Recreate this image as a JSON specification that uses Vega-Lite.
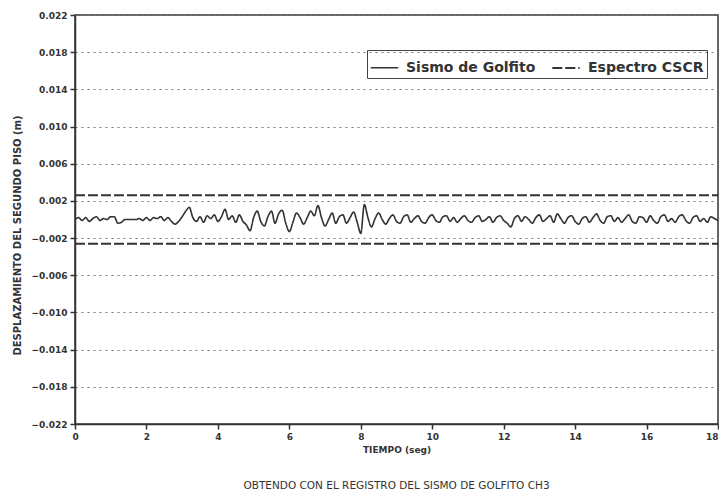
{
  "$schema": "https://vega.github.io/schema/vega-lite/v6.json",
  "width": 643,
  "height": 409,
  "autosize": {"type": "none"},
  "padding": {"left": 75, "top": 15, "right": 1, "bottom": 76},
  "background": "white",
  "title": {"text": "OBTENDO CON EL REGISTRO DEL SISMO DE GOLFITO CH3", "orient": "bottom", "anchor": "middle", "offset": 27, "fontSize": 10.5, "fontWeight": "normal", "font": "DejaVu Sans", "color": "#333"},
  "data": {"values": [
    {"t": 0, "d": 0.0026, "serie": "Espectro CSCR", "g": "sup"},
    {"t": 18, "d": 0.0026, "serie": "Espectro CSCR", "g": "sup"},
    {"t": 0, "d": -0.0026, "serie": "Espectro CSCR", "g": "inf"},
    {"t": 18, "d": -0.0026, "serie": "Espectro CSCR", "g": "inf"},
    {"t": 0.0, "d": 0.0, "serie": "Sismo de Golfito", "g": "s"},
    {"t": 0.1, "d": 0.0002, "serie": "Sismo de Golfito", "g": "s"},
    {"t": 0.2, "d": -0.0001, "serie": "Sismo de Golfito", "g": "s"},
    {"t": 0.3, "d": 0.0002, "serie": "Sismo de Golfito", "g": "s"},
    {"t": 0.4, "d": -0.0002, "serie": "Sismo de Golfito", "g": "s"},
    {"t": 0.5, "d": 0.0001, "serie": "Sismo de Golfito", "g": "s"},
    {"t": 0.6, "d": 0.0003, "serie": "Sismo de Golfito", "g": "s"},
    {"t": 0.7, "d": -0.0001, "serie": "Sismo de Golfito", "g": "s"},
    {"t": 0.8, "d": 0.0001, "serie": "Sismo de Golfito", "g": "s"},
    {"t": 0.9, "d": 0.0, "serie": "Sismo de Golfito", "g": "s"},
    {"t": 1.0, "d": 0.0003, "serie": "Sismo de Golfito", "g": "s"},
    {"t": 1.1, "d": 0.0003, "serie": "Sismo de Golfito", "g": "s"},
    {"t": 1.2, "d": -0.0004, "serie": "Sismo de Golfito", "g": "s"},
    {"t": 1.3, "d": -0.0003, "serie": "Sismo de Golfito", "g": "s"},
    {"t": 1.4, "d": 0.0, "serie": "Sismo de Golfito", "g": "s"},
    {"t": 1.5, "d": 0.0, "serie": "Sismo de Golfito", "g": "s"},
    {"t": 1.6, "d": 0.0, "serie": "Sismo de Golfito", "g": "s"},
    {"t": 1.7, "d": 0.0, "serie": "Sismo de Golfito", "g": "s"},
    {"t": 1.8, "d": 0.0001, "serie": "Sismo de Golfito", "g": "s"},
    {"t": 1.9, "d": -0.0001, "serie": "Sismo de Golfito", "g": "s"},
    {"t": 2.0, "d": 0.0002, "serie": "Sismo de Golfito", "g": "s"},
    {"t": 2.1, "d": -0.0001, "serie": "Sismo de Golfito", "g": "s"},
    {"t": 2.2, "d": 0.0002, "serie": "Sismo de Golfito", "g": "s"},
    {"t": 2.3, "d": 0.0001, "serie": "Sismo de Golfito", "g": "s"},
    {"t": 2.4, "d": 0.0003, "serie": "Sismo de Golfito", "g": "s"},
    {"t": 2.5, "d": -0.0001, "serie": "Sismo de Golfito", "g": "s"},
    {"t": 2.6, "d": 0.0002, "serie": "Sismo de Golfito", "g": "s"},
    {"t": 2.7, "d": -0.0002, "serie": "Sismo de Golfito", "g": "s"},
    {"t": 2.8, "d": -0.0005, "serie": "Sismo de Golfito", "g": "s"},
    {"t": 2.9, "d": -0.0002, "serie": "Sismo de Golfito", "g": "s"},
    {"t": 3.0, "d": 0.0003, "serie": "Sismo de Golfito", "g": "s"},
    {"t": 3.1, "d": 0.0009, "serie": "Sismo de Golfito", "g": "s"},
    {"t": 3.2, "d": 0.0013, "serie": "Sismo de Golfito", "g": "s"},
    {"t": 3.3, "d": 0.0002, "serie": "Sismo de Golfito", "g": "s"},
    {"t": 3.4, "d": -0.0002, "serie": "Sismo de Golfito", "g": "s"},
    {"t": 3.5, "d": 0.0003, "serie": "Sismo de Golfito", "g": "s"},
    {"t": 3.6, "d": -0.0003, "serie": "Sismo de Golfito", "g": "s"},
    {"t": 3.7, "d": 0.0004, "serie": "Sismo de Golfito", "g": "s"},
    {"t": 3.8, "d": 0.0001, "serie": "Sismo de Golfito", "g": "s"},
    {"t": 3.9, "d": 0.0005, "serie": "Sismo de Golfito", "g": "s"},
    {"t": 4.0, "d": -0.0002, "serie": "Sismo de Golfito", "g": "s"},
    {"t": 4.1, "d": 0.0003, "serie": "Sismo de Golfito", "g": "s"},
    {"t": 4.2, "d": 0.0011, "serie": "Sismo de Golfito", "g": "s"},
    {"t": 4.3, "d": 0.0, "serie": "Sismo de Golfito", "g": "s"},
    {"t": 4.4, "d": 0.0004, "serie": "Sismo de Golfito", "g": "s"},
    {"t": 4.5, "d": -0.0003, "serie": "Sismo de Golfito", "g": "s"},
    {"t": 4.6, "d": 0.0005, "serie": "Sismo de Golfito", "g": "s"},
    {"t": 4.7, "d": -0.0002, "serie": "Sismo de Golfito", "g": "s"},
    {"t": 4.8, "d": -0.0006, "serie": "Sismo de Golfito", "g": "s"},
    {"t": 4.9, "d": -0.0012, "serie": "Sismo de Golfito", "g": "s"},
    {"t": 5.0, "d": 0.0002, "serie": "Sismo de Golfito", "g": "s"},
    {"t": 5.1, "d": 0.0009, "serie": "Sismo de Golfito", "g": "s"},
    {"t": 5.2, "d": -0.0002, "serie": "Sismo de Golfito", "g": "s"},
    {"t": 5.3, "d": -0.0007, "serie": "Sismo de Golfito", "g": "s"},
    {"t": 5.4, "d": 0.0003, "serie": "Sismo de Golfito", "g": "s"},
    {"t": 5.5, "d": 0.0009, "serie": "Sismo de Golfito", "g": "s"},
    {"t": 5.6, "d": -0.0004, "serie": "Sismo de Golfito", "g": "s"},
    {"t": 5.7, "d": 0.0006, "serie": "Sismo de Golfito", "g": "s"},
    {"t": 5.8, "d": 0.001, "serie": "Sismo de Golfito", "g": "s"},
    {"t": 5.9, "d": -0.0004, "serie": "Sismo de Golfito", "g": "s"},
    {"t": 6.0, "d": -0.0013, "serie": "Sismo de Golfito", "g": "s"},
    {"t": 6.1, "d": -0.0003, "serie": "Sismo de Golfito", "g": "s"},
    {"t": 6.2, "d": 0.0007, "serie": "Sismo de Golfito", "g": "s"},
    {"t": 6.3, "d": 0.0002, "serie": "Sismo de Golfito", "g": "s"},
    {"t": 6.4, "d": -0.0005, "serie": "Sismo de Golfito", "g": "s"},
    {"t": 6.5, "d": 0.0002, "serie": "Sismo de Golfito", "g": "s"},
    {"t": 6.6, "d": 0.0009, "serie": "Sismo de Golfito", "g": "s"},
    {"t": 6.7, "d": 0.0004, "serie": "Sismo de Golfito", "g": "s"},
    {"t": 6.8, "d": 0.0015, "serie": "Sismo de Golfito", "g": "s"},
    {"t": 6.9, "d": 0.0002, "serie": "Sismo de Golfito", "g": "s"},
    {"t": 7.0, "d": -0.0007, "serie": "Sismo de Golfito", "g": "s"},
    {"t": 7.1, "d": 0.0, "serie": "Sismo de Golfito", "g": "s"},
    {"t": 7.2, "d": 0.0007, "serie": "Sismo de Golfito", "g": "s"},
    {"t": 7.3, "d": -0.0004, "serie": "Sismo de Golfito", "g": "s"},
    {"t": 7.4, "d": 0.0003, "serie": "Sismo de Golfito", "g": "s"},
    {"t": 7.5, "d": 0.0005, "serie": "Sismo de Golfito", "g": "s"},
    {"t": 7.6, "d": -0.0004, "serie": "Sismo de Golfito", "g": "s"},
    {"t": 7.7, "d": 0.0002, "serie": "Sismo de Golfito", "g": "s"},
    {"t": 7.8, "d": 0.0008, "serie": "Sismo de Golfito", "g": "s"},
    {"t": 7.9, "d": -0.0003, "serie": "Sismo de Golfito", "g": "s"},
    {"t": 8.0, "d": -0.0015, "serie": "Sismo de Golfito", "g": "s"},
    {"t": 8.1, "d": 0.0016, "serie": "Sismo de Golfito", "g": "s"},
    {"t": 8.2, "d": 0.0002, "serie": "Sismo de Golfito", "g": "s"},
    {"t": 8.3, "d": -0.0008, "serie": "Sismo de Golfito", "g": "s"},
    {"t": 8.4, "d": 0.0001, "serie": "Sismo de Golfito", "g": "s"},
    {"t": 8.5, "d": 0.0007, "serie": "Sismo de Golfito", "g": "s"},
    {"t": 8.6, "d": 0.0, "serie": "Sismo de Golfito", "g": "s"},
    {"t": 8.7, "d": -0.0005, "serie": "Sismo de Golfito", "g": "s"},
    {"t": 8.8, "d": 0.0001, "serie": "Sismo de Golfito", "g": "s"},
    {"t": 8.9, "d": 0.0005, "serie": "Sismo de Golfito", "g": "s"},
    {"t": 9.0, "d": -0.0002, "serie": "Sismo de Golfito", "g": "s"},
    {"t": 9.1, "d": -0.0004, "serie": "Sismo de Golfito", "g": "s"},
    {"t": 9.2, "d": 0.0003, "serie": "Sismo de Golfito", "g": "s"},
    {"t": 9.3, "d": 0.0005, "serie": "Sismo de Golfito", "g": "s"},
    {"t": 9.4, "d": -0.0003, "serie": "Sismo de Golfito", "g": "s"},
    {"t": 9.5, "d": 0.0001, "serie": "Sismo de Golfito", "g": "s"},
    {"t": 9.6, "d": 0.0004, "serie": "Sismo de Golfito", "g": "s"},
    {"t": 9.7, "d": -0.0002, "serie": "Sismo de Golfito", "g": "s"},
    {"t": 9.8, "d": -0.0004, "serie": "Sismo de Golfito", "g": "s"},
    {"t": 9.9, "d": 0.0002, "serie": "Sismo de Golfito", "g": "s"},
    {"t": 10.0, "d": 0.0005, "serie": "Sismo de Golfito", "g": "s"},
    {"t": 10.1, "d": -0.0001, "serie": "Sismo de Golfito", "g": "s"},
    {"t": 10.2, "d": -0.0003, "serie": "Sismo de Golfito", "g": "s"},
    {"t": 10.3, "d": 0.0003, "serie": "Sismo de Golfito", "g": "s"},
    {"t": 10.4, "d": 0.0004, "serie": "Sismo de Golfito", "g": "s"},
    {"t": 10.5, "d": -0.0002, "serie": "Sismo de Golfito", "g": "s"},
    {"t": 10.6, "d": 0.0002, "serie": "Sismo de Golfito", "g": "s"},
    {"t": 10.7, "d": -0.0003, "serie": "Sismo de Golfito", "g": "s"},
    {"t": 10.8, "d": 0.0001, "serie": "Sismo de Golfito", "g": "s"},
    {"t": 10.9, "d": 0.0004, "serie": "Sismo de Golfito", "g": "s"},
    {"t": 11.0, "d": -0.0001, "serie": "Sismo de Golfito", "g": "s"},
    {"t": 11.1, "d": -0.0003, "serie": "Sismo de Golfito", "g": "s"},
    {"t": 11.2, "d": 0.0002, "serie": "Sismo de Golfito", "g": "s"},
    {"t": 11.3, "d": 0.0004, "serie": "Sismo de Golfito", "g": "s"},
    {"t": 11.4, "d": -0.0002, "serie": "Sismo de Golfito", "g": "s"},
    {"t": 11.5, "d": 0.0, "serie": "Sismo de Golfito", "g": "s"},
    {"t": 11.6, "d": 0.0003, "serie": "Sismo de Golfito", "g": "s"},
    {"t": 11.7, "d": -0.0003, "serie": "Sismo de Golfito", "g": "s"},
    {"t": 11.8, "d": 0.0002, "serie": "Sismo de Golfito", "g": "s"},
    {"t": 11.9, "d": 0.0004, "serie": "Sismo de Golfito", "g": "s"},
    {"t": 12.0, "d": -0.0001, "serie": "Sismo de Golfito", "g": "s"},
    {"t": 12.1, "d": -0.0004, "serie": "Sismo de Golfito", "g": "s"},
    {"t": 12.2, "d": -0.0008, "serie": "Sismo de Golfito", "g": "s"},
    {"t": 12.3, "d": 0.0001, "serie": "Sismo de Golfito", "g": "s"},
    {"t": 12.4, "d": 0.0004, "serie": "Sismo de Golfito", "g": "s"},
    {"t": 12.5, "d": -0.0002, "serie": "Sismo de Golfito", "g": "s"},
    {"t": 12.6, "d": 0.0003, "serie": "Sismo de Golfito", "g": "s"},
    {"t": 12.7, "d": 0.0, "serie": "Sismo de Golfito", "g": "s"},
    {"t": 12.8, "d": -0.0004, "serie": "Sismo de Golfito", "g": "s"},
    {"t": 12.9, "d": 0.0002, "serie": "Sismo de Golfito", "g": "s"},
    {"t": 13.0, "d": 0.0005, "serie": "Sismo de Golfito", "g": "s"},
    {"t": 13.1, "d": -0.0002, "serie": "Sismo de Golfito", "g": "s"},
    {"t": 13.2, "d": 0.0001, "serie": "Sismo de Golfito", "g": "s"},
    {"t": 13.3, "d": 0.0004, "serie": "Sismo de Golfito", "g": "s"},
    {"t": 13.4, "d": -0.0003, "serie": "Sismo de Golfito", "g": "s"},
    {"t": 13.5, "d": 0.0006, "serie": "Sismo de Golfito", "g": "s"},
    {"t": 13.6, "d": 0.0001, "serie": "Sismo de Golfito", "g": "s"},
    {"t": 13.7, "d": -0.0004, "serie": "Sismo de Golfito", "g": "s"},
    {"t": 13.8, "d": 0.0002, "serie": "Sismo de Golfito", "g": "s"},
    {"t": 13.9, "d": 0.0004, "serie": "Sismo de Golfito", "g": "s"},
    {"t": 14.0, "d": -0.0002, "serie": "Sismo de Golfito", "g": "s"},
    {"t": 14.1, "d": -0.0005, "serie": "Sismo de Golfito", "g": "s"},
    {"t": 14.2, "d": 0.0001, "serie": "Sismo de Golfito", "g": "s"},
    {"t": 14.3, "d": 0.0003, "serie": "Sismo de Golfito", "g": "s"},
    {"t": 14.4, "d": -0.0003, "serie": "Sismo de Golfito", "g": "s"},
    {"t": 14.5, "d": 0.0002, "serie": "Sismo de Golfito", "g": "s"},
    {"t": 14.6, "d": 0.0006, "serie": "Sismo de Golfito", "g": "s"},
    {"t": 14.7, "d": -0.0001, "serie": "Sismo de Golfito", "g": "s"},
    {"t": 14.8, "d": -0.0004, "serie": "Sismo de Golfito", "g": "s"},
    {"t": 14.9, "d": 0.0003, "serie": "Sismo de Golfito", "g": "s"},
    {"t": 15.0, "d": 0.0004, "serie": "Sismo de Golfito", "g": "s"},
    {"t": 15.1, "d": -0.0002, "serie": "Sismo de Golfito", "g": "s"},
    {"t": 15.2, "d": 0.0002, "serie": "Sismo de Golfito", "g": "s"},
    {"t": 15.3, "d": -0.0003, "serie": "Sismo de Golfito", "g": "s"},
    {"t": 15.4, "d": 0.0001, "serie": "Sismo de Golfito", "g": "s"},
    {"t": 15.5, "d": 0.0005, "serie": "Sismo de Golfito", "g": "s"},
    {"t": 15.6, "d": -0.0002, "serie": "Sismo de Golfito", "g": "s"},
    {"t": 15.7, "d": -0.0004, "serie": "Sismo de Golfito", "g": "s"},
    {"t": 15.8, "d": 0.0003, "serie": "Sismo de Golfito", "g": "s"},
    {"t": 15.9, "d": 0.0002, "serie": "Sismo de Golfito", "g": "s"},
    {"t": 16.0, "d": -0.0003, "serie": "Sismo de Golfito", "g": "s"},
    {"t": 16.1, "d": 0.0004, "serie": "Sismo de Golfito", "g": "s"},
    {"t": 16.2, "d": -0.0001, "serie": "Sismo de Golfito", "g": "s"},
    {"t": 16.3, "d": -0.0004, "serie": "Sismo de Golfito", "g": "s"},
    {"t": 16.4, "d": 0.0003, "serie": "Sismo de Golfito", "g": "s"},
    {"t": 16.5, "d": 0.0005, "serie": "Sismo de Golfito", "g": "s"},
    {"t": 16.6, "d": -0.0002, "serie": "Sismo de Golfito", "g": "s"},
    {"t": 16.7, "d": 0.0001, "serie": "Sismo de Golfito", "g": "s"},
    {"t": 16.8, "d": -0.0003, "serie": "Sismo de Golfito", "g": "s"},
    {"t": 16.9, "d": 0.0003, "serie": "Sismo de Golfito", "g": "s"},
    {"t": 17.0, "d": 0.0005, "serie": "Sismo de Golfito", "g": "s"},
    {"t": 17.1, "d": -0.0001, "serie": "Sismo de Golfito", "g": "s"},
    {"t": 17.2, "d": -0.0004, "serie": "Sismo de Golfito", "g": "s"},
    {"t": 17.3, "d": 0.0002, "serie": "Sismo de Golfito", "g": "s"},
    {"t": 17.4, "d": 0.0004, "serie": "Sismo de Golfito", "g": "s"},
    {"t": 17.5, "d": -0.0002, "serie": "Sismo de Golfito", "g": "s"},
    {"t": 17.6, "d": 0.0001, "serie": "Sismo de Golfito", "g": "s"},
    {"t": 17.7, "d": -0.0003, "serie": "Sismo de Golfito", "g": "s"},
    {"t": 17.8, "d": 0.0003, "serie": "Sismo de Golfito", "g": "s"},
    {"t": 17.9, "d": 0.0001, "serie": "Sismo de Golfito", "g": "s"},
    {"t": 18.0, "d": -0.0001, "serie": "Sismo de Golfito", "g": "s"}
  ]},
  "mark": {"type": "line", "color": "#333", "clip": true, "interpolate": "monotone"},
  "encoding": {
    "x": {"field": "t", "type": "quantitative", "scale": {"domain": [0, 18], "nice": false, "zero": false},
      "axis": {"title": "TIEMPO (seg)", "values": [0, 2, 4, 6, 8, 10, 12, 14, 16, 18], "format": "d", "grid": false, "titlePadding": 4, "labelFlush": false,
        "labelAlign": {"condition": {"test": "datum.value == 18", "value": "right"}, "value": "center"}}},
    "y": {"field": "d", "type": "quantitative", "scale": {"domain": [-0.022, 0.022], "nice": false},
      "axis": {"title": "DESPLAZAMIENTO DEL SEGUNDO PISO (m)", "values": [-0.022, -0.018, -0.014, -0.010, -0.006, -0.002, 0.002, 0.006, 0.010, 0.014, 0.018, 0.022], "format": ".3f", "grid": true, "gridDash": [2, 4], "gridColor": "#777", "gridWidth": 1.2, "titleFontSize": 10, "labelFlush": false, "titleY": 220}},
    "detail": {"field": "g"},
    "strokeDash": {"field": "serie", "type": "nominal", "scale": {"domain": ["Sismo de Golfito", "Espectro CSCR"], "range": [[1, 0], [10, 3]]},
      "legend": {"title": null, "orient": "none", "legendX": 292, "legendY": 35, "direction": "horizontal", "strokeColor": "#444", "padding": 3, "symbolType": "stroke", "symbolSize": 750, "symbolStrokeWidth": 1.8, "symbolStrokeColor": "#333", "labelFontSize": 14, "labelFontWeight": "bold", "labelColor": "#333", "columnPadding": 12, "labelOffset": 7}},
    "strokeWidth": {"field": "serie", "type": "nominal", "scale": {"domain": ["Sismo de Golfito", "Espectro CSCR"], "range": [1.6, 2]}, "legend": null}
  },
  "config": {
    "font": "DejaVu Sans",
    "view": {"stroke": "#333", "strokeWidth": 1.5},
    "axis": {"domainColor": "#333", "domainWidth": 1.5, "tickColor": "#333", "tickWidth": 1.5, "tickSize": 5, "labelFontSize": 9, "labelFontWeight": "bold", "labelColor": "#333", "titleFontSize": 9, "titleFontWeight": "bold", "titleColor": "#333", "labelPadding": 3},
    "axisY": {"titlePadding": 8}
  }
}
